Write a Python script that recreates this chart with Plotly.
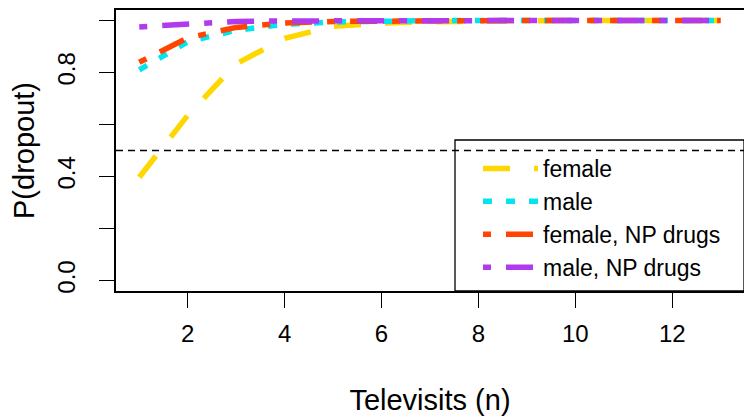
import plotly.graph_objects as go

n_visits = list(range(1, 14))
female = [0.397, 0.635, 0.833, 0.931, 0.977, 0.990, 0.995, 0.998, 0.999, 1.0, 1.0, 1.0, 1.0]
male = [0.810, 0.918, 0.962, 0.985, 0.994, 0.998, 0.999, 1.0, 1.0, 1.0, 1.0, 1.0, 1.0]
female_np = [0.839, 0.933, 0.973, 0.990, 0.996, 0.998, 0.999, 1.0, 1.0, 1.0, 1.0, 1.0, 1.0]
male_np = [0.975, 0.988, 0.996, 0.998, 0.999, 1.0, 1.0, 1.0, 1.0, 1.0, 1.0, 1.0, 1.0]

series_names = ["female", "male", "female, NP drugs", "male, NP drugs"]
series_values = [female, male, female_np, male_np]
series_colors = ["#FFD700", "#00E5EE", "#FF4500", "#B23AEE"]
series_dash = ["27px,24px", "9px,14px", "8px,15px,27px,15px", "8px,15px,27px,15px"]

y_ticks = [0.0, 0.2, 0.4, 0.6, 0.8, 1.0]
y_ticktext = ["0.0", "", "0.4", "", "0.8", ""]
x_ticks = [2, 4, 6, 8, 10, 12]
threshold = 0.5

FONT = "Liberation Sans, Arial, sans-serif"
FS = 24

# the page body adds an 8px offset, so the figure is sized to fill the rest
W, H = 744, 409
PL, PR, PT, PB = 108, 736, 2, 283
PW, PH = PR - PL, PB - PT

fig = go.Figure()
for name, vals, col, dash in zip(series_names, series_values, series_colors, series_dash):
    fig.add_trace(go.Scatter(x=n_visits, y=vals, mode="lines", name=name,
                             line=dict(color=col, width=5.5, dash=dash)))

fig.add_hline(y=threshold, line=dict(color="black", width=1.3, dash="7px,5px"))

# legend frame
fig.add_shape(type="rect", xref="paper", yref="paper",
              x0=(447 - PL) / PW, x1=1, y0=0, y1=(PB - 132) / PH,
              line=dict(color="black", width=1.3), fillcolor="rgba(0,0,0,0)")

fig.update_layout(
    width=W, height=H,
    margin=dict(l=PL, r=W - PR, t=PT, b=H - PB, autoexpand=False),
    paper_bgcolor="white", plot_bgcolor="white",
    font=dict(family=FONT, size=FS, color="black"),
    showlegend=True,
    legend=dict(x=(470 - PL) / PW, xanchor="left", y=(PB - 139) / PH, yanchor="top",
                bgcolor="rgba(0,0,0,0)", borderwidth=0,
                font=dict(family=FONT, size=23, color="black"), itemwidth=55),
    xaxis=dict(range=[0.52, 13.48], tickvals=x_ticks, ticks="outside", ticklen=15,
               tickwidth=1.3, tickcolor="black", showline=True, mirror=True,
               linecolor="black", linewidth=1.5, showgrid=False, zeroline=False,
               automargin=False, ticklabelstandoff=5,
               title=dict(text="Televisits (n)", standoff=44),
               tickfont=dict(family=FONT, size=FS)),
    yaxis=dict(range=[-0.04, 1.04], tickvals=y_ticks, ticktext=y_ticktext,
               ticks="outside", ticklen=15, tickwidth=1.3, tickcolor="black",
               tickangle=-90, showline=True, mirror=True, linecolor="black",
               linewidth=1.5, showgrid=False, zeroline=False, automargin=False,
               ticklabelstandoff=15,
               title=dict(text="P(dropout)", standoff=28),
               tickfont=dict(family=FONT, size=FS)),
)

fig.write_html("out.html")
